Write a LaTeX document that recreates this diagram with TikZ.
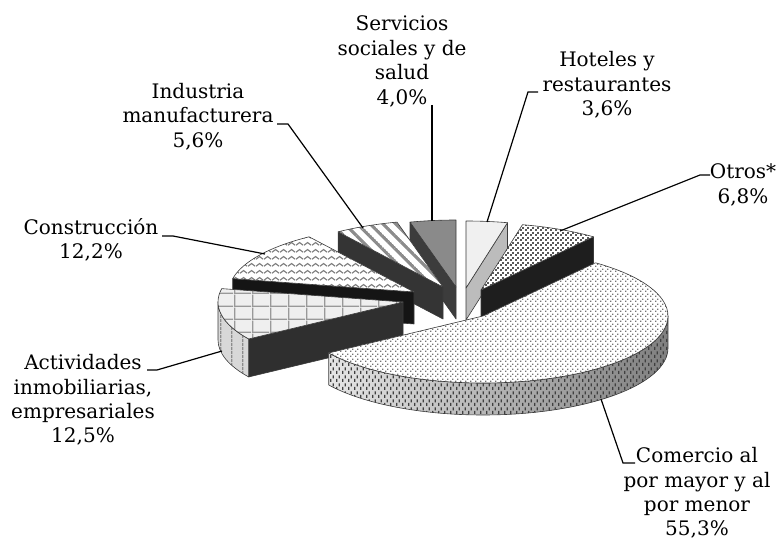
\documentclass[tikz,border=0pt]{standalone}
\usepackage{fontspec}
\setmainfont{DejaVu Serif}
\usepackage{tikz}
\usetikzlibrary{calc, patterns, patterns.meta}

\definecolor{servtop}{HTML}{8A8A8A}
\definecolor{servside}{HTML}{3C3C3C}
\definecolor{hottop}{HTML}{F0F0F0}
\definecolor{hotside}{HTML}{BCBCBC}
\definecolor{otrface}{HTML}{1E1E1E}
\definecolor{indface}{HTML}{343434}
\definecolor{conface}{HTML}{151515}
\definecolor{actface}{HTML}{2F2F2F}
\definecolor{acttop}{HTML}{EFEFEF}
\definecolor{edge}{HTML}{3A3A3A}

% fill patterns of the slices
\tikzdeclarepattern{name=comdots, type=uncolored,
  bounding box={(0pt,0pt) and (5pt,5pt)}, tile size={(5pt,5pt)},
  code={\fill (0pt,0pt) rectangle (1.5pt,1.5pt); \fill (2.5pt,2.5pt) rectangle (4pt,4pt);}}
\tikzdeclarepattern{name=comdash, type=uncolored,
  bounding box={(0pt,0pt) and (6pt,8pt)}, tile size={(6pt,8pt)},
  code={\fill (0pt,0pt) rectangle (1.5pt,3.5pt); \fill (3pt,4pt) rectangle (4.5pt,7.5pt);}}
\tikzdeclarepattern{name=otrcheck, type=uncolored,
  bounding box={(0pt,0pt) and (5pt,5pt)}, tile size={(5pt,5pt)},
  code={\fill (0pt,0pt) rectangle (2.2pt,2.2pt); \fill (2.5pt,2.5pt) rectangle (4.7pt,4.7pt);}}
\tikzdeclarepattern{name=conwave, type=uncolored,
  bounding box={(0pt,0pt) and (8pt,7pt)}, tile size={(8pt,7pt)},
  code={\draw[line width=1.3pt] (0pt,2pt) -- (4pt,5pt) -- (8pt,2pt);}}
\tikzdeclarepattern{name=indstripe, type=uncolored,
  bounding box={(0pt,-1.6pt) and (9pt,1.6pt)}, tile size={(9pt,9pt)},
  tile transformation={rotate=-45},
  code={\draw[line width=3.2pt] (0pt,0pt) -- (9pt,0pt);}}
\tikzdeclarepattern{name=actgrid, type=uncolored,
  bounding box={(0pt,0pt) and (18pt,13pt)}, tile size={(18pt,13pt)},
  code={\fill (0pt,0pt) rectangle (18pt,1.5pt); \fill (0pt,0pt) rectangle (1.5pt,13pt);}}
\tikzdeclarepattern{name=actvline, type=uncolored,
  bounding box={(0pt,0pt) and (11pt,4pt)}, tile size={(11pt,4pt)},
  code={\fill (0pt,0pt) rectangle (1.5pt,4pt);}}

\tikzset{
  face/.style={draw=edge, line width=0.6pt, line join=round},
  pie/.style={x radius=185pt, y radius=67pt},
  lbl/.style={align=center, inner sep=0pt, font=\fontsize{20}{24.4}\selectfont},
  leader/.style={line width=1.2pt, black}
}

\begin{document}
\begin{tikzpicture}[x=1pt, y=1pt]
\useasboundingbox (0,0) rectangle (781,541);

% apex of each slice
\coordinate (cSer) at (456,254);
\coordinate (cHot) at (466,253);
\coordinate (cInd) at (443,254);
\coordinate (cOtr) at (481,251);
\coordinate (cCon) at (414,249);
\coordinate (cAct) at (403,239);
\coordinate (cCom) at (483,225);

% Servicios
\path[face, fill=servside] (cSer) -- ($(cSer)+(104.4:185pt and 67pt)$) -- ++(0,-32) -- ($(cSer)+(0,-32)$) -- cycle;
\path[face, fill=servtop] (cSer) -- ($(cSer)+(90:185pt and 67pt)$) arc[pie, start angle=90, end angle=104.4] -- cycle;

% Hoteles
\path[face, fill=hotside] (cHot) -- ($(cHot)+(77.04:185pt and 67pt)$) -- ++(0,-32) -- ($(cHot)+(0,-32)$) -- cycle;
\path[face, fill=hottop] (cHot) -- ($(cHot)+(77.04:185pt and 67pt)$) arc[pie, start angle=77.04, end angle=90] -- cycle;

% Industria
\path[face, fill=indface] (cInd) -- ($(cInd)+(124.56:185pt and 67pt)$) -- ++(0,-32) -- ($(cInd)+(0,-32)$) -- cycle;
\path[face, preaction={fill=white}, pattern=indstripe, pattern color=black!45] (cInd) -- ($(cInd)+(104.4:185pt and 67pt)$) arc[pie, start angle=104.4, end angle=124.56] -- cycle;

% Otros
\path[face, fill=otrface] (cOtr) -- ($(cOtr)+(52.56:185pt and 67pt)$) -- ++(0,-32) -- ($(cOtr)+(0,-32)$) -- cycle;
\path[face, preaction={fill=white}, pattern=otrcheck, pattern color=black!65] (cOtr) -- ($(cOtr)+(52.56:185pt and 67pt)$) arc[pie, start angle=52.56, end angle=77.04] -- cycle;

% Construccion
\path[face, fill=conface] (cCon) -- ($(cCon)+(168.48:185pt and 67pt)$) -- ++(0,-32) -- ($(cCon)+(0,-32)$) -- cycle;
\path[face, preaction={fill=white}, pattern=conwave, pattern color=black!50] (cCon) -- ($(cCon)+(124.56:185pt and 67pt)$) arc[pie, start angle=124.56, end angle=168.48] -- cycle;

% Actividades
\path[face, fill=actface] (cAct) -- ($(cAct)+(213.48:185pt and 67pt)$) -- ++(0,-38) -- ($(cAct)+(0,-38)$) -- cycle;
\path[face, preaction={fill=hottop!90!black}, pattern=actvline, pattern color=black!45] ($(cAct)+(180:185pt and 67pt)$) arc[pie, start angle=180, end angle=213.48] -- ++(0,-38) arc[pie, start angle=213.48, end angle=180] -- cycle;
\path[face, preaction={fill=acttop}, pattern=actgrid, pattern color=black!40] (cAct) -- ($(cAct)+(168.48:185pt and 67pt)$) arc[pie, start angle=168.48, end angle=213.48] -- cycle;

% Comercio
\path[face, preaction={left color=black!10, right color=black!50}, pattern=comdash, pattern color=black!75] ($(cCom)+(213.48:185pt and 67pt)$) arc[pie, start angle=213.48, end angle=360] -- ++(0,-32) arc[pie, start angle=360, end angle=213.48] -- cycle;
\path[face, preaction={fill=white}, pattern=comdots, pattern color=black!55] (cCom) -- ($(cCom)+(213.48:185pt and 67pt)$) arc[pie, start angle=213.48, end angle=412.56] -- cycle;

% labels
\node[lbl] (lSer) at (402,479.5) {Servicios\\sociales y de\\salud\\4,0\%};
\node[lbl] (lHot) at (607,456) {Hoteles y\\restaurantes\\3,6\%};
\node[lbl] (lInd) at (198,424.5) {Industria\\manufacturera\\5,6\%};
\node[lbl] (lOtr) at (743,356) {Otros*\\6,8\%};
\node[lbl] (lCon) at (91,301) {Construcción\\12,2\%};
\node[lbl] (lAct) at (83,141) {Actividades\\inmobiliarias,\\empresariales\\12,5\%};
\node[lbl] (lCom) at (697,48) {Comercio al\\por mayor y al\\por menor\\55,3\%};

% leader lines
\coordinate (sSer) at (432,436); \coordinate (tSer) at (432,320);
\coordinate (sHot) at (538,449); \coordinate (tHot) at (487,319);
\coordinate (sInd) at (277,417); \coordinate (tInd) at (363,313);
\coordinate (sOtr) at (710,366); \coordinate (tOtr) at (560,310);
\coordinate (sCon) at (162,305); \coordinate (tCon) at (265,287);
\coordinate (sAct) at (147,171); \coordinate (tAct) at (222,190);
\coordinate (sCom) at (635,78);  \coordinate (tCom) at (601,142);
\draw[leader] (sSer) -- (tSer);
\draw[leader] (sHot) -- ++(-10,0) -- (tHot);
\draw[leader] (sInd) -- ++(11,0) -- (tInd);
\draw[leader] (sOtr) -- ++(-10,0) -- (tOtr);
\draw[leader] (sCon) -- ++(11,0) -- (tCon);
\draw[leader] (sAct) -- ++(10,0) -- (tAct);
\draw[leader] (sCom) -- ++(-12,0) -- (tCom);
\end{tikzpicture}
\end{document}
